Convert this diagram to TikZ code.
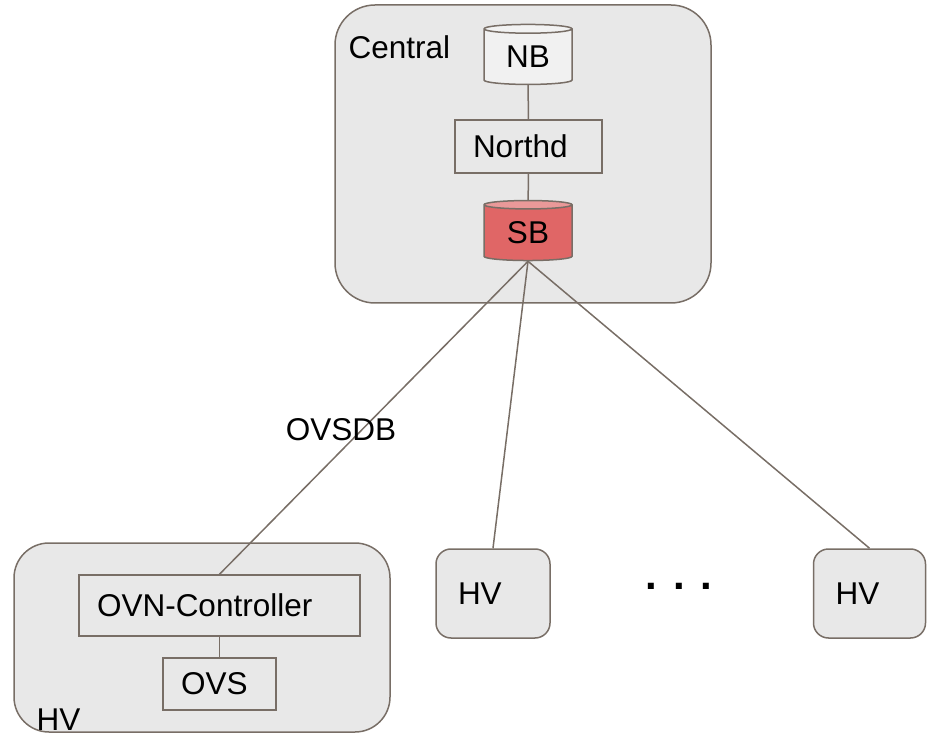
\documentclass[tikz,border=0pt]{standalone}
\usepackage{fontspec}
\setmainfont{Liberation Sans}
\usetikzlibrary{shapes.geometric}
\definecolor{edgegray}{RGB}{120,110,102}
\definecolor{boxgray}{RGB}{232,232,232}
\definecolor{sbred}{RGB}{224,102,102}
\definecolor{sbtop}{RGB}{234,153,153}
\begin{document}
\begin{tikzpicture}[x=1pt, y=-1pt,
  every node/.style={font=\fontsize{31.5}{36}\selectfont},
  group/.style={draw=edgegray, line width=1.5pt, fill=boxgray, rounded corners=#1},
  proc/.style={draw=edgegray, line width=1.5pt, fill=boxgray, rectangle, inner xsep=18pt, align=left},
  db/.style={cylinder, shape border rotate=90, aspect=0.2, draw=edgegray, line width=1.5pt,
    minimum width=88pt, minimum height=60pt, inner sep=0pt, cylinder uses custom fill},
  link/.style={draw=edgegray, line width=1.5pt}]
\useasboundingbox (0,0) rectangle (927,735);

% central part
\draw[group=40pt] (335,5) rectangle (711,303);
\node[anchor=base west] (central) at (345,59) {Central};

\node[db, cylinder body fill=boxgray!60!white, cylinder end fill=white!95!black] (nb) at (528,57) {NB};
\node[proc, text width=111pt, minimum height=53pt] (northd) at (528.5,146.5) {Northd};
\node[db, cylinder body fill=sbred, cylinder end fill=sbtop] (sb) at (528,233) {SB};

\draw[link] (nb) -- (northd);
\draw[link] (northd) -- (sb);

% the hypervisors
\draw[group=35pt] (14,543) rectangle (390,732);
\node[anchor=base west] (hvlabel) at (33,730) {HV};
\node[proc, text width=245pt, minimum height=61pt] (ovnctl) at (219.5,605.5) {OVN-Controller};
\node[proc, text width=77pt, minimum height=52pt] (ovs) at (219.5,684) {OVS};
\draw[link] (ovnctl) -- (ovs);

\node[proc, rounded corners=15pt, inner xsep=22pt, text width=70pt, minimum height=89pt] (hva) at (493,593.5) {HV};
\node[proc, rounded corners=15pt, inner xsep=22pt, text width=68pt, minimum height=89pt] (hvb) at (869.5,593.5) {HV};

\node[font=\fontsize{42}{42}\selectfont\bfseries] (dots) at (679,586) {. . .};

% links from the southbound db
\draw[link] (sb.south) -- (ovnctl.north);
\draw[link] (sb.south) -- (hva.north);
\draw[link] (sb.south) -- (hvb.north);

\node (ovsdb) at (341,430) {OVSDB};

\end{tikzpicture}
\end{document}
